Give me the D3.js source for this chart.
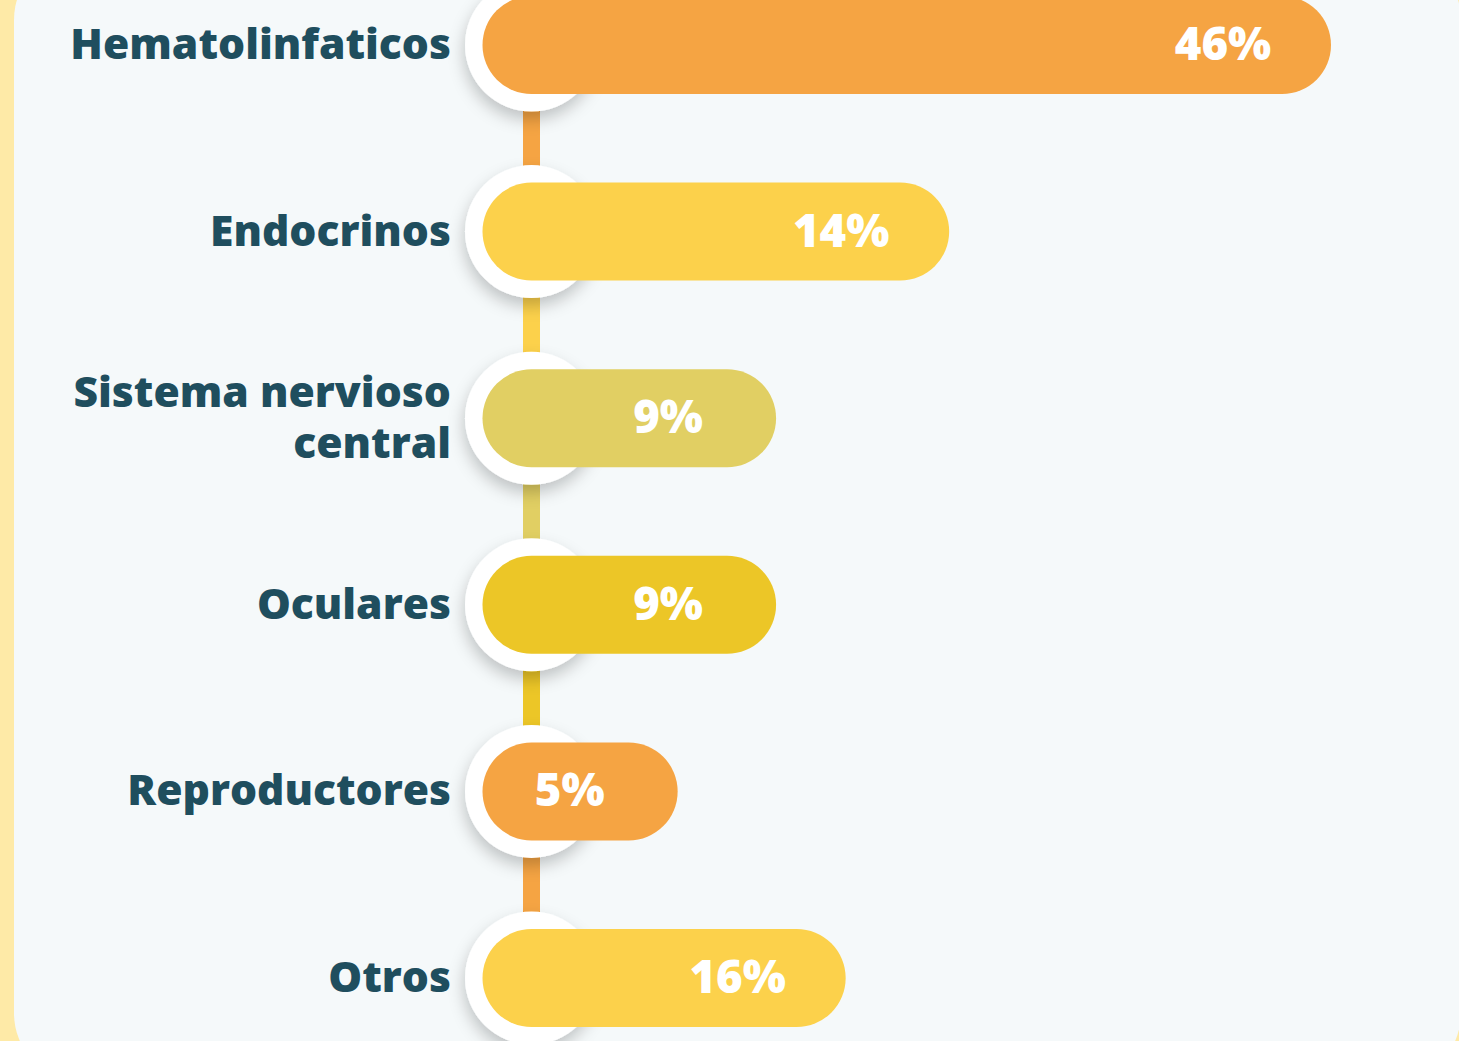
<!DOCTYPE html>
<html>
<head>
<meta charset="utf-8">
<script src="https://cdn.jsdelivr.net/npm/d3@7"></script>
<style>
    html, body { margin: 0; padding: 0; background: #feeaa7; overflow: hidden; }
    svg { display: block; }
    .cat-label { font-family: "Open Sans", sans-serif; font-weight: 800; fill: #1f4e5e; }
    .pct-label { font-family: "Open Sans", sans-serif; font-weight: 800; fill: #ffffff; }
</style>
</head>
<body>
<svg id="chart"></svg>
<script>
// categorias (una linea por elemento del array interno)
const categories = [
    ["Hematolinfaticos"],
    ["Endocrinos"],
    ["Sistema nervioso", "central"],
    ["Oculares"],
    ["Reproductores"],
    ["Otros"]
];
const percents = [46, 14, 9, 9, 5, 16];
// largo visual de cada barra, relativo a la mas larga (=100)
const barReach = [100, 55, 34.6, 34.6, 23, 42.8];
const barColors = ["#f5a443", "#fcd14b", "#e1cf63", "#ecc627", "#f5a443", "#fcd14b"];

const width = 1459;
const height = 1041;

const svg = d3.select("#chart")
    .attr("width", width)
    .attr("height", height);

// sombra de los circulos blancos
const defs = svg.append("defs");
defs.append("filter")
    .attr("id", "shadow")
    .attr("x", "-40%").attr("y", "-40%")
    .attr("width", "180%").attr("height", "180%")
    .append("feDropShadow")
    .attr("dx", -1)
    .attr("dy", 8)
    .attr("stdDeviation", 8)
    .attr("flood-color", "#000")
    .attr("flood-opacity", 0.22);

// panel claro con esquinas redondeadas
svg.append("rect")
    .attr("x", 14)
    .attr("y", -50)
    .attr("width", 1447)
    .attr("height", 1133)
    .attr("rx", 70)
    .attr("fill", "#f5f9fa");

const data = categories.map((c, i) => ({
    lines: c, pct: percents[i], reach: barReach[i], color: barColors[i], index: i
}));

const barHeight = 98;
const capX = 531.5; // centro del circulo de inicio

const y = d3.scalePoint()
    .domain(d3.range(data.length))
    .range([45, 978]);

const x = d3.scaleLinear()
    .domain([0, 100])
    .range([capX - barHeight / 2, 1331]);

// lineas verticales entre burbujas
svg.append("g")
    .selectAll("rect")
    .data(data.slice(0, -1))
    .join("rect")
    .attr("x", capX - 8.5)
    .attr("y", d => y(d.index))
    .attr("width", 17)
    .attr("height", d => y(d.index + 1) - y(d.index))
    .attr("fill", d => d.color);

// circulos blancos con sombra
svg.append("g")
    .selectAll("circle")
    .data(data)
    .join("circle")
    .attr("cx", capX)
    .attr("cy", d => y(d.index))
    .attr("r", 66.5)
    .attr("fill", "#ffffff")
    .attr("filter", "url(#shadow)");

// barras
svg.append("g")
    .selectAll("rect")
    .data(data)
    .join("rect")
    .attr("x", x(0))
    .attr("y", d => y(d.index) - barHeight / 2)
    .attr("width", d => x(d.reach) - x(0))
    .attr("height", barHeight)
    .attr("rx", barHeight / 2)
    .attr("fill", d => d.color);

// porcentajes
svg.append("g")
    .selectAll("text")
    .data(data)
    .join("text")
    .attr("class", "pct-label")
    .attr("x", d => x(d.reach) - 108)
    .attr("y", d => y(d.index) + 15)
    .attr("text-anchor", "middle")
    .attr("font-size", 45.5)
    .text(d => d.pct + "%");

// nombres de las categorias
const labels = svg.append("g")
    .selectAll("text")
    .data(data)
    .join("text")
    .attr("class", "cat-label")
    .attr("text-anchor", "end")
    .attr("font-size", 42.6)
    .attr("y", d => y(d.index) + 14 - (d.lines.length - 1) * 25.5);

labels.selectAll("tspan")
    .data(d => d.lines)
    .join("tspan")
    .attr("x", 451)
    .attr("dy", (d, i) => i === 0 ? 0 : 51)
    .text(d => d);
</script>
</body>
</html>
